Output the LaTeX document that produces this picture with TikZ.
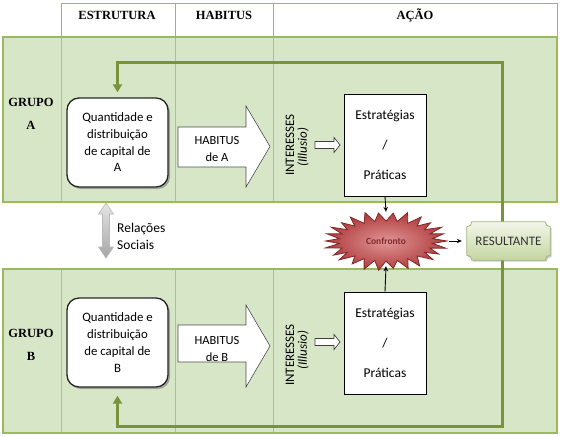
\documentclass[tikz,border=0pt]{standalone}
\usepackage{fontspec}
\setmainfont{Carlito}
\newfontfamily\hdrfont{Liberation Serif}
\usetikzlibrary{shadows,arrows.meta,shapes.geometric,calc}
\definecolor{bandfill}{RGB}{216,230,200}
\definecolor{bandline}{RGB}{155,187,89}
\definecolor{innerline}{RGB}{172,194,142}
\definecolor{loopgreen}{RGB}{119,147,60}
\definecolor{starred}{RGB}{175,60,62}
\definecolor{stardark}{RGB}{130,40,42}
\definecolor{starpink}{RGB}{225,150,150}
\definecolor{restop}{RGB}{242,246,234}
\definecolor{resbot}{RGB}{196,214,160}
\begin{document}
\begin{tikzpicture}[x=1pt,y=-1pt,
  hdr/.style={font=\hdrfont\bfseries\fontsize{12.5}{15}\selectfont},
  grp/.style={font=\hdrfont\bfseries\fontsize{12.5}{23}\selectfont, align=center},
  capbox/.style={draw=black!85, line width=1.3pt, fill=white, rounded corners=12pt,
    minimum width=101pt, minimum height=89pt, inner sep=0pt,
    drop shadow={shadow xshift=2pt,shadow yshift=-2pt,fill=black!60,opacity=.5},
    align=center, font=\fontsize{12.8}{16.7}\selectfont},
  stratbox/.style={draw=black, line width=0.9pt, fill=white, minimum width=82pt,
    minimum height=102pt, inner sep=0pt, align=center, font=\fontsize{13.5}{30}\selectfont},
  habarrow/.style={fill=white, draw=black!70, line width=0.6pt},
  habtext/.style={align=center, font=\fontsize{12.5}{17}\selectfont},
  smallarrow/.style={fill=white, draw=black!75, line width=0.7pt},
  vtext/.style={rotate=90, font=\fontsize{13}{15}\selectfont},
  loopline/.style={draw=loopgreen, line width=3pt, -{Triangle[length=8pt,width=9pt]}},
  conn/.style={draw=black, line width=0.9pt, -{Stealth[length=5pt,width=4.5pt]}},
  band/.style={fill=bandfill, draw=bandline, line width=1.5pt},
  inner/.style={draw=innerline, line width=1pt},
  hline/.style={draw=bandline, line width=1pt}
]
\useasboundingbox (0,0) rectangle (561,436);
\fill[white] (0,0) rectangle (561,436);

% header
\draw[hline] (61,37) -- (61,4) -- (557,4) -- (557,37);
\draw[hline] (175,4) -- (175,37);
\draw[hline] (273,4) -- (273,37);
\node[hdr] (hE) at (117,15) {ESTRUTURA};
\node[hdr] (hH) at (224,15) {HABITUS};
\node[hdr] (hA) at (415,15) {AÇÃO};

% bands
\draw[band] (3,37) rectangle (557,202);
\draw[band] (3,269) rectangle (557,433);
\foreach \xx in {61,175,273}{
  \draw[inner] (\xx,38) -- (\xx,201);
  \draw[inner] (\xx,270) -- (\xx,432);
}

% group labels
\node[grp] (gA) at (31,113.5) {GRUPO\\A};
\node[grp] (gB) at (31,345) {GRUPO\\B};

% capital boxes
\node[capbox] (capA) at (117.5,142.5) {Quantidade e\\distribuição\\de capital de\\A};
\node[capbox] (capB) at (117.5,342.5) {Quantidade e\\distribuição\\de capital de\\B};

% habitus arrows
\draw[habarrow] (178,127) -- (246,127) -- (246,106) -- (270,146.5) -- (246,187) -- (246,167) -- (178,167) -- cycle;
\node[habtext] (habA) at (217,148.5) {HABITUS\\de A};
\draw[habarrow] (178,325) -- (246,325) -- (246,305) -- (270,346) -- (246,387) -- (246,362) -- (178,362) -- cycle;
\node[habtext] (habB) at (217,349) {HABITUS\\de B};

% interesses
\node[vtext] (intA) at (290,145) {INTERESSES};
\node[vtext,font=\itshape\fontsize{13}{15}\selectfont] (illA) at (303,147) {(Illusio)};
\node[vtext] (intB) at (290,355) {INTERESSES};
\node[vtext,font=\itshape\fontsize{13}{15}\selectfont] (illB) at (303,350) {(Illusio)};

% small arrows
\draw[smallarrow] (315,141.5) -- (334,141.5) -- (334,137.5) -- (340,145) -- (334,152.5) -- (334,148.5) -- (315,148.5) -- cycle;
\draw[smallarrow] (315,338.5) -- (334,338.5) -- (334,334.5) -- (340,342) -- (334,349.5) -- (334,345.5) -- (315,345.5) -- cycle;

% strategy boxes
\node[stratbox] (stratA) at (385,145) {Estratégias\\/\\Práticas};
\node[stratbox] (stratB) at (385,343) {Estratégias\\/\\Práticas};

% loop line
\coordinate (loopR) at (502,241);
\draw[loopline, shorten >=5pt] (loopR) |- ([yshift=35pt]capA.north) -- (capA.north);
\draw[loopline, shorten >=8pt] (loopR) |- ([yshift=-39pt]capB.south) -- (capB.south);

% relacoes sociais
\draw[top color=gray!20, bottom color=gray!70, draw=gray!55, line width=0.6pt]
  (106,203) -- (113.5,214) -- (109.5,214) -- (109.5,247) -- (113.5,247) -- (106,258)
  -- (98.5,247) -- (102.5,247) -- (102.5,214) -- (98.5,214) -- cycle;
\node[anchor=west, align=left, font=\fontsize{13.5}{17}\selectfont, inner sep=0pt] (rel) at (117,236.5) {Relações\\Sociais};

% confronto starburst
\draw[draw=stardark, line width=0.8pt, inner color=starpink, outer color=starred]
  plot[samples at={0,...,51}]
  ({386+(mod(\x,2)==0 ? 61*(1+0.03*sin(\x*77)) : 47)*cos(\x*6.923077)},
   {241+(mod(\x,2)==0 ? 29*(1+0.05*sin(\x*53)) : 20)*sin(\x*6.923077)}) -- cycle;
\node[ellipse, minimum width=122pt, minimum height=58pt, inner sep=0pt,
  font=\bfseries\fontsize{9.5}{12}\selectfont, text=stardark] (conf) at (386,241) {Confronto};

% resultante
\node[minimum width=83pt, minimum height=38pt, inner sep=0pt] (res) at (508.5,241) {};
\path[top color=restop, bottom color=resbot, draw=bandline!80!black!70, line width=0.8pt,
  drop shadow={shadow xshift=1.5pt,shadow yshift=-1.5pt,fill=black!50,opacity=.4}]
  ([xshift=-5pt]res.north east) arc[start angle=180,end angle=270,radius=5pt]
  -- ([yshift=5pt]res.south east) arc[start angle=90,end angle=180,radius=5pt]
  -- ([xshift=5pt]res.south west) arc[start angle=0,end angle=90,radius=5pt]
  -- ([yshift=-5pt]res.north west) arc[start angle=270,end angle=360,radius=5pt]
  -- cycle;
\node[font=\fontsize{13}{15}\selectfont, text=black!80] (resT) at (res.center) {RESULTANTE};

% connectors
\draw[conn] (stratA.south) -- (conf.north);
\draw[conn] (stratB.north) -- ([yshift=4pt]conf.south);
\draw[conn, shorten <=2pt, shorten >=5pt] (conf.east) -- (res.west);
\end{tikzpicture}
\end{document}
